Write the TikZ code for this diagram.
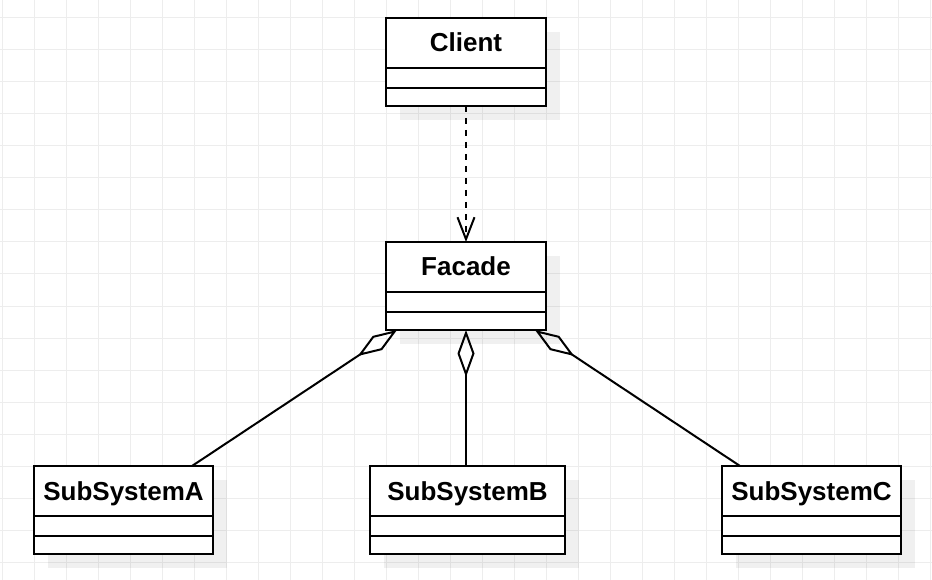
\documentclass[tikz,border=0pt]{standalone}
\usepackage{fontspec}
\setmainfont{Liberation Sans}
\usetikzlibrary{arrows.meta,shadows,calc,positioning}

\begin{document}
\begin{tikzpicture}[%
        x=1pt, y=-1pt,
        gridline/.style={line width=1pt, black!7},
        classbox/.style={draw, line width=2pt, fill=white, minimum height=88pt,
            inner sep=0pt, outer sep=0pt,
            drop shadow={shadow xshift=14pt, shadow yshift=-14pt, fill=black, opacity=0.06}},
        classname/.style={font=\bfseries\fontsize{26}{31}\selectfont, inner sep=0pt, anchor=base},
        divider/.style={line width=2pt},
        dependency/.style={line width=2pt, dash pattern=on 6pt off 6pt,
            -{Straight Barb[length=22pt,width=17pt]}},
        aggregation/.style={line width=2pt, {Diamond[open,length=47pt,width=17pt]}-}
        ]
        \useasboundingbox (0,0) rectangle (932,580);
        % grid
        \foreach \i in {0,...,29} \draw[gridline] (2+32*\i,0) -- (2+32*\i,580);
        \foreach \j in {0,...,17} \draw[gridline] (0,18+32*\j) -- (932,18+32*\j);

        \node[classbox, minimum width=160pt] (client) at (466,62) {};
        \node[classbox, minimum width=160pt] (facade) at (466,286) {};
        \node[classbox, minimum width=179pt] (subA) at (123.5,510) {};
        \node[classbox, minimum width=195pt] (subB) at (467.5,510) {};
        \node[classbox, minimum width=179pt] (subC) at (811.5,510) {};

        \node[classname] (client-name) at ($(client.north)+(0,34)$) {Client};
        \node[classname] (facade-name) at ($(facade.north)+(0,34)$) {Facade};
        \node[classname] (subA-name) at ($(subA.north)+(0,34)$) {SubSystemA};
        \node[classname] (subB-name) at ($(subB.north)+(0,34)$) {SubSystemB};
        \node[classname] (subC-name) at ($(subC.north)+(0,34)$) {SubSystemC};

        % compartments
        \foreach \n in {client,facade,subA,subB,subC} {
            \draw[divider] ($(\n.north west)+(0,50)$) -- ($(\n.north east)+(0,50)$);
            \draw[divider] ($(\n.north west)+(0,70)$) -- ($(\n.north east)+(0,70)$);
        }

        \draw[dependency] (client.south) -- (facade.north);

        % aggregations
        \draw[aggregation] ([xshift=-69pt]facade.south) -- ([xshift=68.5pt]subA.north);
        \draw[aggregation] (facade.south) -- (facade.south |- subB.north);
        \draw[aggregation] ([xshift=69pt]facade.south) -- ([xshift=-71.5pt]subC.north);
\end{tikzpicture}
\end{document}
